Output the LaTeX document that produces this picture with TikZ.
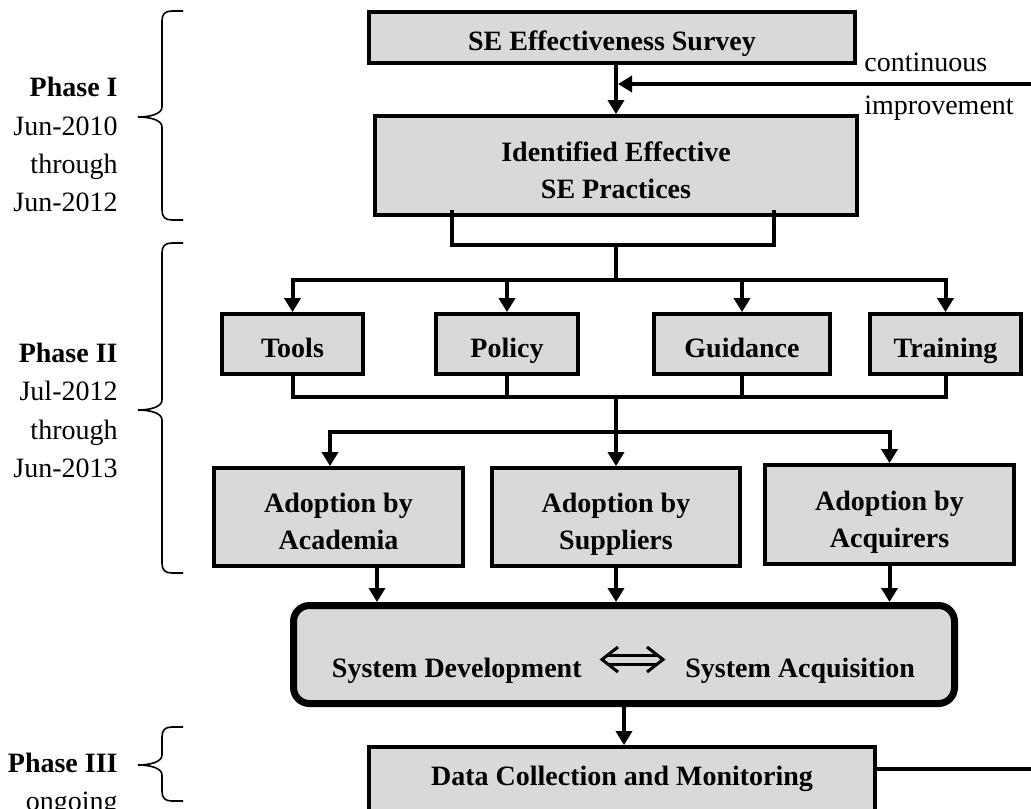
\documentclass[tikz,border=0pt]{standalone}
\usepackage{fontspec}
\setmainfont{Liberation Serif}
\usetikzlibrary{arrows.meta}
\definecolor{boxgray}{HTML}{D9D9D9}
\newcommand{\mktwo}[2]{\rule{0pt}{17pt}#1\\#2\rule[-3pt]{0pt}{3pt}}
\newcommand{\phbrace}[3]{%
  \draw[bracestyle] (183,#1) -- (172,#1) .. controls (165,#1) and (162,{#1+3}) .. (162,{#1+10})
    -- (162,{#2-10}) .. controls (162,{#2-3}) and (150,#2) .. (138,#2)
    .. controls (150,#2) and (162,{#2+3}) .. (162,{#2+10})
    -- (162,{#3-10}) .. controls (162,{#3-3}) and (165,#3) .. (172,#3) -- (183,#3);}
\begin{document}
\begin{tikzpicture}[x=0.5pt,y=-0.5pt,
  font=\fontsize{14}{18.5}\selectfont,
  box/.style={draw=black, fill=boxgray, line width=1.9pt, inner sep=0pt,
    font=\fontsize{14}{18.5}\selectfont\bfseries},
  onel/.style={text height=13pt, text depth=0pt},
  twol/.style={align=center},
  conn/.style={line width=2pt, line join=miter, line cap=butt},
  arr/.style={conn, -{Triangle[width=8pt,length=7pt]}},
  bracestyle/.style={line width=0.8pt},
  lbl/.style={inner sep=0pt, anchor=base east},
  lbr/.style={inner sep=0pt, anchor=base west},
]
\useasboundingbox (0,0) rectangle (1031,808);

% boxes
\node[box, onel, minimum width=243pt, minimum height=25.5pt] (surv) at (612,37.5) {SE Effectiveness Survey};
\node[box, twol, minimum width=241pt, minimum height=49.5pt] (id) at (616,165.5) {\mktwo{Identified Effective}{SE Practices}};
\node[box, onel, minimum width=70.5pt, minimum height=30pt] (tools) at (292.5,344) {Tools};
\node[box, onel, minimum width=71pt, minimum height=30pt] (policy) at (507,344) {Policy};
\node[box, onel, minimum width=88pt, minimum height=30pt] (guid) at (742,344) {Guidance};
\node[box, onel, minimum width=75.5pt, minimum height=30pt] (train) at (945.5,344) {Training};
\node[box, twol, minimum width=124.5pt, minimum height=49pt] (acad) at (338.5,517) {\mktwo{Adoption by}{Academia}};
\node[box, twol, minimum width=124pt, minimum height=49pt] (supp) at (616,517) {\mktwo{Adoption by}{Suppliers}};
\node[box, twol, minimum width=124.5pt, minimum height=49.5pt] (acq) at (889.5,514.5) {\mktwo{Adoption by}{Acquirers}};
\node[box, line width=3.5pt, rounded corners=8pt, minimum width=330.5pt, minimum height=49pt] (sys) at (624,654.5) {};
\node[box, text height=5pt, text depth=5pt, minimum width=253pt, minimum height=38pt] (data) at (622,785) {Data Collection and Monitoring};

% system box texts and double arrow
\node[inner sep=0pt, anchor=base east, font=\fontsize{14}{18.5}\selectfont\bfseries] (sdev) at (582,677) {System Development};
\node[inner sep=0pt, anchor=base west, font=\fontsize{14}{18.5}\selectfont\bfseries] (sacq) at (685,677) {System Acquisition};
\draw[line width=1.5pt, line join=miter] (618,647) -- (602,659.5) -- (618,672);
\draw[line width=1.5pt, line join=miter] (647,647) -- (663,659.5) -- (647,672);
\draw[line width=1.5pt] (608,655) -- (657,655);
\draw[line width=1.5pt] (608,664) -- (657,664);

% feedback labels
\node[lbr] (cont) at (864,72) {continuous};
\node[lbr] (impr) at (864,114) {improvement};

% connectors
\draw[arr] (surv.south -| id.north) -- (id.north);
\coordinate (fbin) at (1031,84);
\draw[arr, shorten >=1pt] (fbin) -- (fbin -| id.north);

\coordinate (idL) at (452,210);
\coordinate (idR) at (774,210);
\coordinate (j1) at (616,245);
\coordinate (j2) at (616,280);
\draw[conn] (idL) |- (j1) -| (idR);
\draw[conn] (j1) -- (j2);
\draw[arr] (j2) -| (tools.north);
\draw[arr] (j2) -| (policy.north);
\draw[arr] (j2) -| (guid.north);
\draw[arr] (j2) -| (train.north);

\coordinate (j3) at (616,397);
\coordinate (j4) at (616,432);
\draw[conn] (tools.south) |- (j3);
\draw[conn] (policy.south) |- (j3);
\draw[conn] (guid.south) |- (j3);
\draw[conn] (train.south) |- (j3);
\draw[conn] (j3) -- (j4);
\coordinate (aIn) at (330,432);
\draw[arr] (j4) -- (aIn) -- (aIn |- acad.north);
\draw[arr] (j4) -- (supp.north);
\draw[arr] (j4) -| (acq.north);

\coordinate (aOut) at ([xshift=19.25pt]acad.south);
\draw[arr] (aOut) -- (aOut |- sys.north);
\draw[arr] (supp.south) -- (supp.south |- sys.north);
\draw[arr] (acq.south) -- (acq.south |- sys.north);
\draw[arr] (sys.south) -- (sys.south |- data.north);

\coordinate (fbout) at (1031,769);
\draw[conn] (data.east |- fbout) -- (fbout);

% braces
\phbrace{11}{117}{220}
\phbrace{243}{410}{573}
\phbrace{727}{765}{801}

% phase labels
\node[lbl, font=\fontsize{14}{18.5}\selectfont\bfseries] (p1a) at (118,97) {Phase I};
\node[lbl] (p1b) at (118,135) {Jun-2010};
\node[lbl] (p1c) at (118,173) {through};
\node[lbl] (p1d) at (118,211) {Jun-2012};
\node[lbl, font=\fontsize{14}{18.5}\selectfont\bfseries] (p2a) at (118,362) {Phase II};
\node[lbl] (p2b) at (118,400) {Jul-2012};
\node[lbl] (p2c) at (118,439) {through};
\node[lbl] (p2d) at (118,477) {Jun-2013};
\node[lbl, font=\fontsize{14}{18.5}\selectfont\bfseries] (p3a) at (118,772) {Phase III};
\node[lbl] (p3b) at (118,810) {ongoing};
\end{tikzpicture}
\end{document}
